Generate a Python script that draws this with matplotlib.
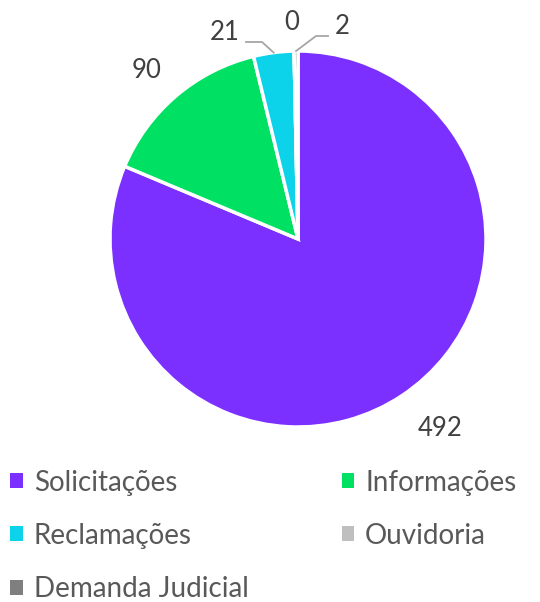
import numpy as np
import matplotlib.pyplot as plt
from matplotlib.patches import Patch

categorias = ["Solicitações", "Informações", "Reclamações", "Ouvidoria", "Demanda Judicial"]
valores = [492, 90, 21, 0, 2]
cores = ["#7B30FF", "#00E163", "#0CD2EA", "#BFBFBF", "#7F7F7F"]

plt.rcParams['font.family'] = ['Lato', 'DejaVu Sans']

fig = plt.figure(figsize=(5.4, 6.02), dpi=100)
ax = fig.add_axes([0, 0, 1, 1])

cx, cy, r = 298, 602 - 239, 188
wedges, _ = ax.pie(valores, colors=cores, startangle=90, counterclock=False,
                   center=(cx, cy), radius=r, frame=True,
                   wedgeprops=dict(edgecolor="white", linewidth=2.5))
ax.set_xlim(0, 540)
ax.set_ylim(0, 602)
ax.set_aspect("equal")
ax.axis("off")

# label positions (pixel layout) and leader line bends
pos_rot = [(440, 428), (147, 70), (225, 33), (292, 22), (342, 27)]
linhas = [None, None, [(246, 42), (262, 42)], None, [(328, 36), (316, 36)]]
cor_txt = "#404040"
for w, v, (px, py), ln in zip(wedges, valores, pos_rot, linhas):
    ax.text(px, 602 - py, str(v), ha="center", va="center", fontsize=18.5, color=cor_txt)
    if ln is not None:
        ang = np.deg2rad((w.theta1 + w.theta2) / 2)
        ex, ey = cx + r * np.cos(ang), cy + r * np.sin(ang)
        xs = [ln[0][0], ln[1][0], ex]
        ys = [602 - ln[0][1], 602 - ln[1][1], ey]
        ax.plot(xs, ys, color="#A6A6A6", lw=1.3)

handles = [Patch(facecolor=c, edgecolor="none") for c in cores]
ordem = [0, 2, 4, 1, 3]
leg = fig.legend([handles[i] for i in ordem], [categorias[i] for i in ordem],
                 ncol=2, loc="upper left", bbox_to_anchor=(10 / 540, 0.22),
                 frameon=False, fontsize=20, handlelength=0.45, handleheight=0.45,
                 handletextpad=0.4, columnspacing=3.35, labelspacing=0.98,
                 borderaxespad=0, borderpad=0)
for t in leg.get_texts():
    t.set_color("#595959")

fig.savefig("out.png", dpi=100)
